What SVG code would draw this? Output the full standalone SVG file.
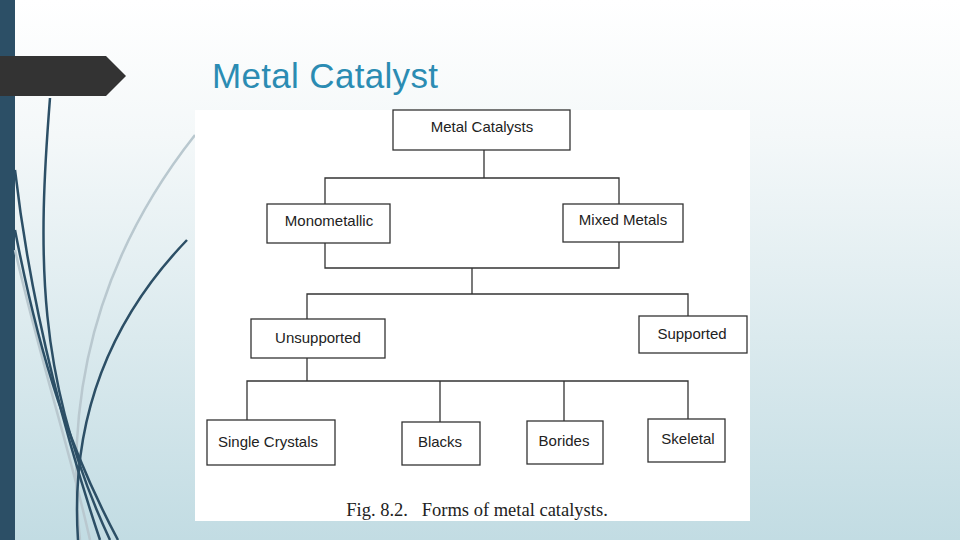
<svg xmlns="http://www.w3.org/2000/svg" width="960" height="540" viewBox="0 0 960 540">
<defs>
<linearGradient id="bg" x1="0" y1="0" x2="0" y2="1">
<stop offset="0" stop-color="#ffffff"/><stop offset="0.25" stop-color="#f4f8f9"/><stop offset="1" stop-color="#c2dce3"/>
</linearGradient>
<style>
.b{fill:#fff;stroke:#333;stroke-width:1.3}
.t{font-family:"Liberation Sans",Arial,sans-serif;font-size:15px;fill:#222;text-anchor:middle}
.c{fill:none;stroke:#333;stroke-width:1.3}
.dk{fill:none;stroke:#2c4f66;stroke-width:2.5}
.lt{fill:none;stroke:#b9c8cf;stroke-width:2.5}
</style>
</defs>
<rect width="960" height="540" fill="url(#bg)"/>
<rect x="0" y="0" width="15" height="540" fill="#2c4f66"/>
<g id="decor">
<path class="lt" d="M195 135 C120 230 60 360 80 540"/>
<path class="lt" d="M15 250 C40 360 70 450 90 540"/>
<path class="dk" d="M50 98 C38 250 35 380 110 540"/>
<path class="dk" d="M15 170 C30 300 60 420 100 540"/>
<path class="dk" d="M187 240 C110 320 70 420 78 540"/>
<path class="dk" d="M15 230 C40 360 70 450 118 540"/>
</g>
<path d="M0 56 H106 L126 76 L106 96 H0 Z" fill="#333"/>
<text x="212" y="88" font-family="Liberation Sans,Arial,sans-serif" font-size="35" fill="#2b8cb3" textLength="226">Metal Catalyst</text>
<rect x="195" y="110" width="555" height="411" fill="#fff"/>
<g id="connectors">
<path class="c" d="M484 150 V178 M325 204 V178 H619 V204"/>
<path class="c" d="M325 243 V268 H619 V242 M472 268 V294 M307 319 V294 H688 V316"/>
<path class="c" d="M307 358 V381 M247 420 V381 H688 V419 M440 381 V422 M564 381 V421"/>
</g>
<g id="n1"><rect class="b" x="393" y="110" width="177" height="40"/><text class="t" x="482" y="132">Metal Catalysts</text></g>
<g id="n2"><rect class="b" x="267" y="204" width="123" height="39"/><text class="t" x="329" y="226">Monometallic</text></g>
<g id="n3"><rect class="b" x="563" y="204" width="120" height="38"/><text class="t" x="623" y="225">Mixed Metals</text></g>
<g id="n4"><rect class="b" x="251" y="319" width="134" height="39"/><text class="t" x="318" y="343">Unsupported</text></g>
<g id="n5"><rect class="b" x="639" y="316" width="108" height="37"/><text class="t" x="692" y="339">Supported</text></g>
<g id="n6"><rect class="b" x="207" y="420" width="128" height="45"/><text class="t" x="268" y="447">Single Crystals</text></g>
<g id="n7"><rect class="b" x="402" y="422" width="78" height="43"/><text class="t" x="440" y="447">Blacks</text></g>
<g id="n8"><rect class="b" x="527" y="421" width="76" height="43"/><text class="t" x="564" y="446">Borides</text></g>
<g id="n9"><rect class="b" x="648" y="419" width="77" height="43"/><text class="t" x="688" y="444">Skeletal</text></g>
<text x="477" y="516" font-family="Liberation Serif,serif" font-size="18.5" fill="#222" text-anchor="middle" xml:space="preserve">Fig. 8.2.   Forms of metal catalysts.</text>
</svg>
